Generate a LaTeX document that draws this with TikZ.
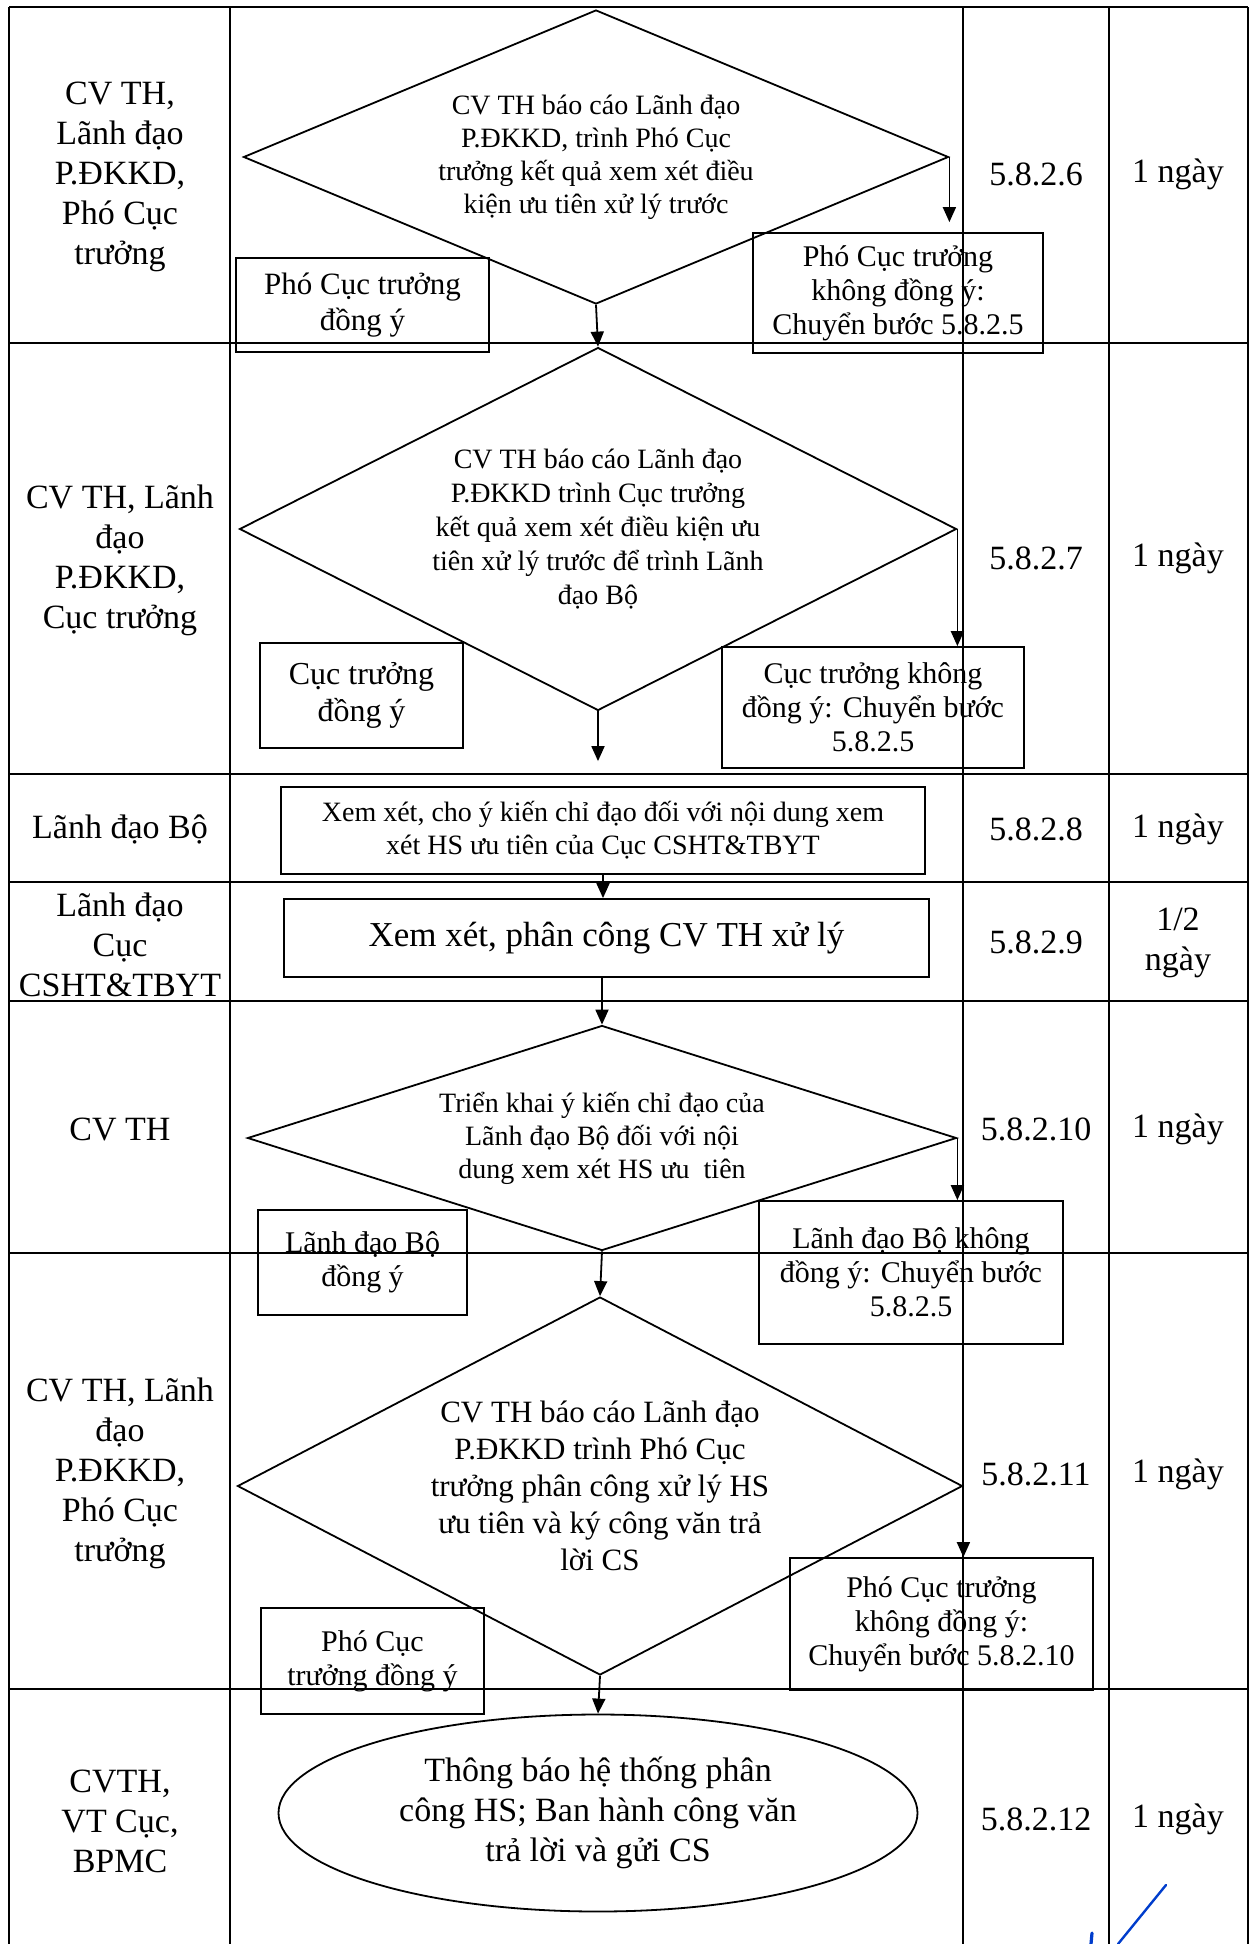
\documentclass[tikz,border=0pt]{standalone}
\usepackage{fontspec}
\setmainfont{Liberation Serif}
\usetikzlibrary{shapes.geometric,arrows.meta}

\begin{document}
\begin{tikzpicture}[x=1pt,y=-1pt,
  vgrid/.style={line width=2.2pt},
  hgrid/.style={line width=2.6pt},
  cell/.style={font=\fontsize{34}{40}\selectfont, align=center, inner sep=0pt},
  decision/.style={diamond, draw, line width=1.8pt, inner sep=0pt, align=center},
  outcome/.style={draw, line width=1.8pt, inner sep=0pt, align=center, font=\fontsize{30}{34}\selectfont},
  task/.style={draw, line width=1.8pt, inner sep=0pt, align=center},
  flow/.style={line width=1.8pt, -{Triangle[length=15pt,width=13pt]}},
  pen/.style={draw=blue!70!cyan!80!black, line width=2.4pt, line cap=round},
]
\useasboundingbox (0,0) rectangle (1253,1944);

% ---------- step 5.8.2.6 ----------
\node[decision, minimum width=705pt, minimum height=294pt, aspect=2.4,
      font=\fontsize{28}{33}\selectfont] (d1) at (596,157)
  {CV TH báo cáo Lãnh đạo\\P.ĐKKD, trình Phó Cục\\trưởng kết quả xem xét điều\\kiện ưu tiên xử lý trước};
\node[outcome, minimum width=253pt, minimum height=94pt, font=\fontsize{31}{36}\selectfont]
  (b1l) at (362.5,305) {Phó Cục trưởng\\đồng ý};
\node[outcome, minimum width=290pt, minimum height=120pt] (b1r) at (898,293)
  {Phó Cục trưởng\\không đồng ý:\\Chuyển bước 5.8.2.5};

% ---------- step 5.8.2.7 ----------
\node[decision, minimum width=717pt, minimum height=363pt, aspect=1.975,
      font=\fontsize{28}{34}\selectfont] (d2) at (598,529)
  {CV TH báo cáo Lãnh đạo\\P.ĐKKD trình Cục trưởng\\kết quả xem xét điều kiện ưu\\tiên xử lý trước để trình Lãnh\\đạo Bộ};
\node[outcome, minimum width=203pt, minimum height=105pt, font=\fontsize{32}{37}\selectfont]
  (b2l) at (361.5,695.5) {Cục trưởng\\đồng ý};
\node[outcome, minimum width=302pt, minimum height=121pt] (b2r) at (873,707.5)
  {Cục trưởng không\\đồng ý: Chuyển bước\\5.8.2.5};

% ---------- steps 5.8.2.8 and 5.8.2.9 ----------
\node[task, minimum width=644pt, minimum height=87pt, font=\fontsize{28}{33}\selectfont]
  (b3) at (603,830.5) {Xem xét, cho ý kiến chỉ đạo đối với nội dung xem\\xét HS ưu tiên của Cục CSHT\&TBYT};
\node[task, minimum width=645pt, minimum height=78pt, font=\fontsize{35}{40}\selectfont]
  (b4) at (606.5,938) {Xem xét, phân công CV TH xử lý};

% ---------- step 5.8.2.10 ----------
\node[decision, minimum width=709pt, minimum height=225pt, aspect=3.15,
      font=\fontsize{28}{33}\selectfont] (d3) at (602,1138)
  {Triển khai ý kiến chỉ đạo của\\Lãnh đạo Bộ đối với nội\\dung xem xét HS ưu\ \ tiên};
\node[outcome, minimum width=209pt, minimum height=105pt] (b5l) at (362.5,1262.5)
  {Lãnh đạo Bộ\\đồng ý};
\node[outcome, minimum width=304pt, minimum height=143pt] (b5r) at (911,1272.5)
  {Lãnh đạo Bộ không\\đồng ý: Chuyển bước\\5.8.2.5};

% ---------- step 5.8.2.11 ----------
\node[decision, minimum width=725pt, minimum height=378pt, aspect=1.92,
      font=\fontsize{31}{37}\selectfont] (d4) at (600,1486)
  {CV TH báo cáo Lãnh đạo\\P.ĐKKD trình Phó Cục\\trưởng phân công xử lý HS\\ưu tiên và ký công văn trả\\lời CS};
\node[outcome, minimum width=223pt, minimum height=106pt] (b6l) at (372.5,1661)
  {Phó Cục\\trưởng đồng ý};
\node[outcome, minimum width=303pt, minimum height=132pt] (b6r) at (941.5,1624)
  {Phó Cục trưởng\\không đồng ý:\\Chuyển bước 5.8.2.10};

% ---------- step 5.8.2.12 ----------
\node[ellipse, draw, line width=1.8pt, inner sep=0pt, align=center,
      minimum width=639pt, minimum height=197pt, font=\fontsize{34}{40}\selectfont]
  (ell) at (598,1813) {Thông báo hệ thống phân\\công HS; Ban hành công văn\\trả lời và gửi CS};

% ---------- connectors ----------
\draw[flow, shorten >=10pt] (d1.east) -- (d1.east |- b1r.north);
\draw[flow] (d1.south) -- (d2.north);
\draw[flow] (d2.east) -- (d2.east |- b2r.north);
\draw[flow, shorten >=25pt] (d2.south) -- (d2.south |- b3.north);
\draw[flow] (b3.south) -- (b3.south |- b4.north);
\draw[flow] (d3.north |- b4.south) -- (d3.north);
\draw[flow] (d3.east) -- (d3.east |- b5r.north);
\draw[flow] (d3.south) -- (d4.north);
\draw[flow] (d4.east) -- (d4.east |- b6r.north);
\draw[flow] (d4.south) -- (ell.north);

% ---------- table grid ----------
\foreach \x in {9,230,963,1109,1248}
  \draw[vgrid] (\x,7) -- (\x,1944);
\foreach \y in {7,343,774,882,1001,1253,1689}
  \draw[hgrid] (9,\y) -- (1248,\y);

% ---------- lane labels ----------
\node[cell] (r1a) at (120,177) {CV TH,\\Lãnh đạo\\P.ĐKKD,\\Phó Cục\\trưởng};
\node[cell] (r1b) at (1036,174) {5.8.2.6};
\node[cell] (r1c) at (1178,174) {1 ngày};

\node[cell] (r2a) at (120,560) {CV TH, Lãnh\\đạo\\P.ĐKKD,\\Cục trưởng};
\node[cell] (r2b) at (1036,558) {5.8.2.7};
\node[cell] (r2c) at (1178,558) {1 ngày};

\node[cell] (r3a) at (120,829) {Lãnh đạo Bộ};
\node[cell] (r3b) at (1036,829) {5.8.2.8};
\node[cell] (r3c) at (1178,829) {1 ngày};

\node[cell] (r4a) at (120,945) {Lãnh đạo\\Cục\\CSHT\&TBYT};
\node[cell] (r4b) at (1036,942) {5.8.2.9};
\node[cell] (r4c) at (1178,943) {1/2\\ngày};

\node[cell] (r5a) at (120,1129) {CV TH};
\node[cell] (r5b) at (1036,1129) {5.8.2.10};
\node[cell] (r5c) at (1178,1129) {1 ngày};

\node[cell] (r6a) at (120,1473) {CV TH, Lãnh\\đạo\\P.ĐKKD,\\Phó Cục\\trưởng};
\node[cell] (r6b) at (1036,1474) {5.8.2.11};
\node[cell] (r6c) at (1178,1474) {1 ngày};

\node[cell] (r7a) at (120,1821) {CVTH,\\VT Cục,\\BPMC};
\node[cell] (r7b) at (1036,1819) {5.8.2.12};
\node[cell] (r7c) at (1178,1819) {1 ngày};

% ---------- pen mark ----------
\draw[pen] (1166,1885) -- (1118,1944);
\draw[pen, line width=3.2pt] (1092,1933) -- (1091,1944);
\end{tikzpicture}
\end{document}
